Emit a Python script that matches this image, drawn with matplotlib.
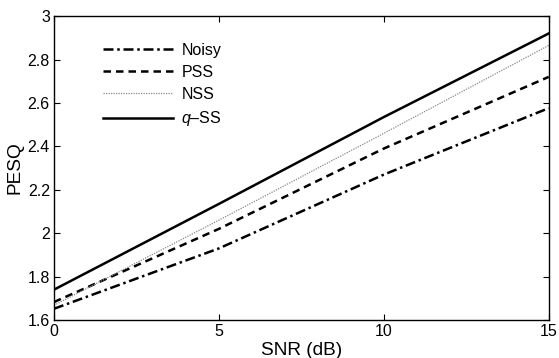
import matplotlib
matplotlib.use("Agg")
import matplotlib.pyplot as plt

plt.rcParams['font.family'] = ['Liberation Sans', 'DejaVu Sans']
plt.rcParams['mathtext.fontset'] = 'custom'
plt.rcParams['mathtext.it'] = 'Liberation Sans:italic'
plt.rcParams['mathtext.rm'] = 'Liberation Sans'

snr = [0, 5, 10, 15]
noisy = [1.652, 1.93, 2.27, 2.576]
pss = [1.683, 2.02, 2.39, 2.72]
nss = [1.668, 2.06, 2.46, 2.865]
qss = [1.740, 2.135, 2.535, 2.92]
labels = ['Noisy', 'PSS', 'NSS', '$q$–SS']
xticks = [0, 5, 10, 15]
yticks = [1.6, 1.8, 2.0, 2.2, 2.4, 2.6, 2.8, 3.0]
yticklabels = ['1.6', '1.8', '2', '2.2', '2.4', '2.6', '2.8', '3']

fig = plt.figure(figsize=(5.59, 3.58), dpi=100)
ax = fig.add_axes([0.0966, 0.106, 0.885, 0.849])

ax.plot(snr, noisy, color='black', lw=1.8, linestyle=(0, (4, 1.5, 1, 1.5)), label=labels[0])
ax.plot(snr, pss, color='black', lw=1.8, linestyle=(0, (3, 2)), label=labels[1])
ax.plot(snr, nss, color='#888888', lw=0.9, linestyle=(0, (1, 1)), label=labels[2])
ax.plot(snr, qss, color='black', lw=1.8, linestyle='-', label=labels[3])

ax.set_xlim(0, 15)
ax.set_ylim(1.6, 3.0)
ax.set_xticks(xticks)
ax.set_yticks(yticks)
ax.set_yticklabels(yticklabels)
ax.tick_params(direction='in', top=True, right=True, labelsize=11.5, length=4, width=0.8, pad=3)
for s in ax.spines.values():
    s.set_linewidth(1.0)
ax.set_xlabel('SNR (dB)', fontsize=13.7, labelpad=2)
ax.set_ylabel('PESQ', fontsize=13.7, labelpad=3)

leg = ax.legend(loc='upper left', bbox_to_anchor=(0.07, 0.96), frameon=False,
                fontsize=11.5, handlelength=4.4, handletextpad=0.5, labelspacing=0.45)

fig.savefig('out.png', dpi=100)
